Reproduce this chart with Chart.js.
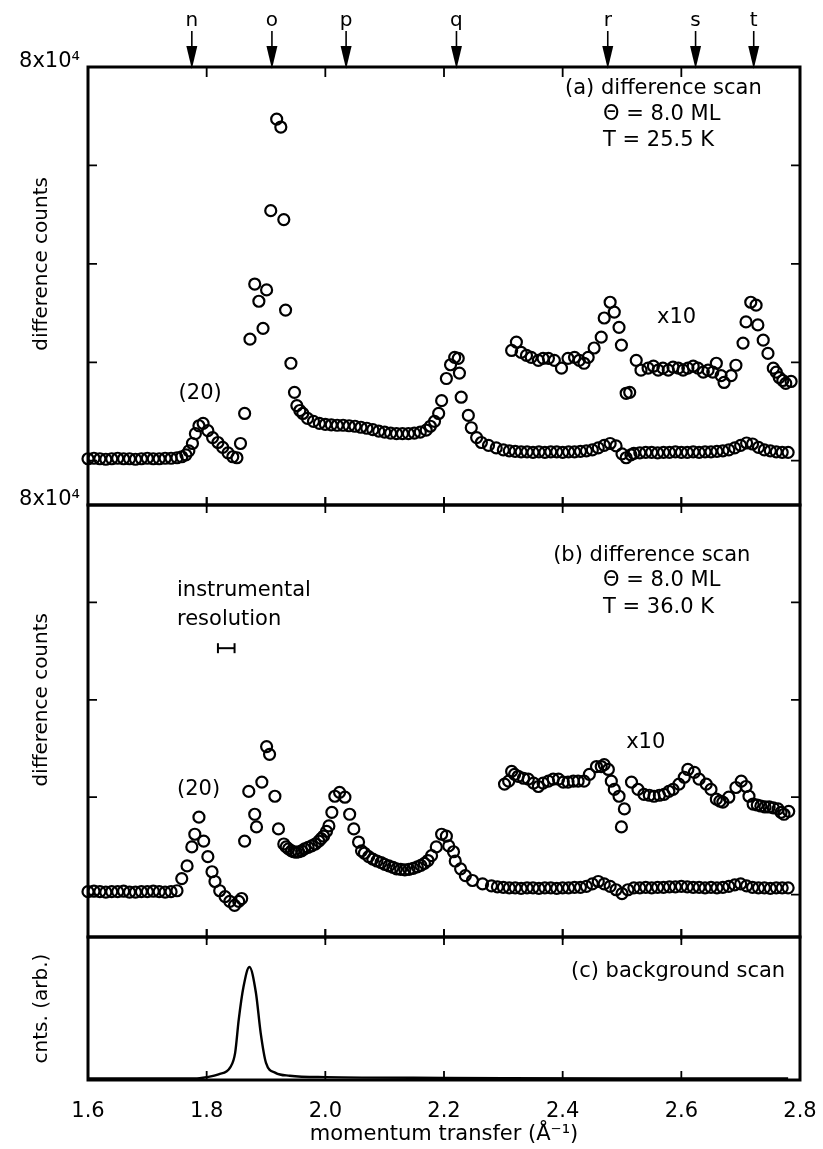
<!DOCTYPE html>
<html>
<head>
<meta charset="utf-8">
<script src="https://cdn.jsdelivr.net/npm/chart.js@4/dist/chart.umd.min.js"></script>
<style>
  html, body { margin: 0; padding: 0; background: #fff; }
  #figure { position: relative; width: 823px; height: 1149px; overflow: hidden; }
  #figure canvas { position: absolute; left: 0; }
</style>
</head>
<body>
<div id="figure">
  <canvas id="panelA" width="823" height="507" style="top:0px"></canvas>
  <canvas id="panelB" width="823" height="460" style="top:480px"></canvas>
  <canvas id="panelC" width="823" height="249" style="top:900px"></canvas>
</div>
<script>
// ---- data (momentum transfer in 1/A, counts in units of 10^4) ----
var markerLabels = ['n', 'o', 'p', 'q', 'r', 's', 't'];
var markerQ = [1.775, 1.910, 2.035, 2.221, 2.476, 2.624, 2.722];

var xTicks = [1.8, 2.0, 2.2, 2.4, 2.6];
var countTicks = [0, 2, 4, 6];
var countTopLabel = '8x10\u2074';

// (a) difference scan, T = 25.5 K
var scanA = [
  [1.600,0.04],[1.610,0.05],[1.620,0.04],[1.630,0.03],[1.640,0.04],[1.650,0.05],[1.660,0.04],[1.670,0.04],
  [1.680,0.03],[1.690,0.04],[1.700,0.05],[1.710,0.04],[1.720,0.04],[1.730,0.05],[1.740,0.05],[1.750,0.06],
  [1.758,0.08],[1.765,0.12],[1.770,0.20],[1.776,0.35],[1.781,0.55],[1.787,0.71],[1.794,0.76],[1.802,0.61],
  [1.810,0.47],[1.819,0.37],[1.827,0.27],[1.836,0.16],[1.844,0.08],[1.851,0.06],[1.857,0.35],[1.864,0.96],
  [1.873,2.47],[1.881,3.59],[1.888,3.24],[1.895,2.69],[1.901,3.47],[1.908,5.08],[1.918,6.94],[1.925,6.78],
  [1.930,4.90],[1.933,3.06],[1.942,1.98],[1.948,1.39],[1.952,1.12],[1.957,1.02],[1.962,0.96],[1.970,0.86],
  [1.980,0.80],[1.990,0.76],[2.000,0.74],[2.010,0.73],[2.020,0.72],[2.030,0.72],[2.040,0.71],[2.050,0.70],
  [2.060,0.68],[2.070,0.66],[2.080,0.63],[2.090,0.60],[2.100,0.58],[2.110,0.56],[2.120,0.55],[2.130,0.55],
  [2.140,0.55],[2.150,0.56],[2.160,0.58],[2.170,0.62],[2.177,0.70],[2.184,0.80],[2.191,0.96],[2.196,1.22],
  [2.204,1.67],[2.211,1.95],[2.218,2.10],[2.224,2.08],[2.226,1.78],[2.229,1.29],[2.241,0.92],[2.246,0.67],
  [2.255,0.47],[2.263,0.37],[2.275,0.31],[2.288,0.26],[2.300,0.22],[2.310,0.20],[2.320,0.19],[2.330,0.18],
  [2.340,0.18],[2.350,0.17],[2.360,0.18],[2.370,0.17],[2.380,0.18],[2.390,0.18],[2.400,0.17],[2.410,0.18],
  [2.420,0.18],[2.430,0.19],[2.440,0.20],[2.450,0.22],[2.460,0.26],[2.470,0.31],[2.480,0.35],[2.490,0.30],
  [2.500,0.14],[2.507,0.06],[2.515,0.12],[2.520,0.15],[2.530,0.16],[2.540,0.17],[2.550,0.17],[2.560,0.16],
  [2.570,0.17],[2.580,0.17],[2.590,0.18],[2.600,0.17],[2.610,0.17],[2.620,0.18],[2.630,0.17],[2.640,0.18],
  [2.650,0.18],[2.660,0.19],[2.670,0.20],[2.680,0.22],[2.690,0.26],[2.700,0.31],[2.710,0.36],[2.720,0.34],
  [2.730,0.27],[2.740,0.22],[2.750,0.20],[2.760,0.18],[2.770,0.17],[2.780,0.17]
];

var scanAx10 = [
  [2.314,2.24],[2.322,2.41],[2.330,2.20],[2.339,2.14],[2.347,2.10],[2.359,2.04],[2.367,2.08],[2.376,2.08],
  [2.386,2.04],[2.398,1.88],[2.409,2.08],[2.420,2.10],[2.428,2.04],[2.436,1.98],[2.443,2.10],[2.453,2.29],
  [2.465,2.51],[2.470,2.90],[2.480,3.22],[2.487,3.02],[2.495,2.71],[2.499,2.35],[2.507,1.37],[2.513,1.39],
  [2.524,2.04],[2.532,1.84],[2.544,1.88],[2.553,1.92],[2.561,1.84],[2.569,1.88],[2.578,1.84],[2.586,1.90],
  [2.595,1.88],[2.603,1.84],[2.611,1.88],[2.620,1.92],[2.628,1.88],[2.637,1.80],[2.645,1.84],[2.653,1.80],
  [2.659,1.98],[2.667,1.73],[2.672,1.59],[2.684,1.73],[2.692,1.94],[2.704,2.39],[2.709,2.82],[2.717,3.22],
  [2.726,3.16],[2.729,2.76],[2.738,2.45],[2.746,2.18],[2.755,1.88],[2.760,1.80],[2.765,1.69],[2.771,1.63],
  [2.776,1.57],[2.785,1.61]
];

// (b) difference scan, T = 36.0 K
var scanB = [
  [1.600,0.06],[1.610,0.07],[1.620,0.06],[1.630,0.05],[1.640,0.06],[1.650,0.06],[1.660,0.07],[1.670,0.05],
  [1.680,0.05],[1.690,0.06],[1.700,0.06],[1.710,0.07],[1.720,0.06],[1.730,0.05],[1.740,0.06],[1.750,0.08],
  [1.758,0.33],[1.767,0.59],[1.775,0.98],[1.780,1.24],[1.787,1.59],[1.795,1.10],[1.802,0.78],[1.809,0.47],
  [1.814,0.27],[1.822,0.08],[1.831,-0.04],[1.839,-0.14],[1.847,-0.22],[1.854,-0.14],[1.859,-0.08],[1.864,1.10],
  [1.871,2.12],[1.881,1.65],[1.884,1.39],[1.893,2.31],[1.901,3.04],[1.906,2.88],[1.915,2.02],[1.921,1.35],
  [1.930,1.04],[1.934,0.98],[1.938,0.94],[1.943,0.90],[1.947,0.88],[1.951,0.87],[1.955,0.88],[1.960,0.90],
  [1.965,0.94],[1.971,0.97],[1.977,1.00],[1.983,1.04],[1.989,1.10],[1.993,1.15],[1.997,1.20],[2.002,1.30],
  [2.006,1.41],[2.011,1.69],[2.016,2.02],[2.024,2.10],[2.033,2.00],[2.041,1.65],[2.048,1.35],[2.056,1.08],
  [2.061,0.90],[2.066,0.85],[2.073,0.78],[2.080,0.73],[2.087,0.69],[2.094,0.66],[2.100,0.62],[2.107,0.59],
  [2.114,0.56],[2.120,0.53],[2.127,0.52],[2.134,0.51],[2.141,0.52],[2.148,0.54],[2.155,0.57],[2.161,0.60],
  [2.167,0.64],[2.173,0.70],[2.179,0.80],[2.187,0.98],[2.196,1.24],[2.204,1.20],[2.208,1.00],[2.216,0.88],
  [2.219,0.69],[2.228,0.53],[2.236,0.39],[2.248,0.29],[2.265,0.22],[2.280,0.18],[2.290,0.16],[2.300,0.15],
  [2.310,0.14],[2.320,0.14],[2.330,0.13],[2.340,0.14],[2.350,0.14],[2.360,0.13],[2.370,0.14],[2.380,0.14],
  [2.390,0.13],[2.400,0.14],[2.410,0.14],[2.420,0.15],[2.430,0.15],[2.440,0.17],[2.450,0.22],[2.460,0.27],
  [2.470,0.22],[2.480,0.17],[2.490,0.10],[2.500,0.02],[2.510,0.10],[2.520,0.14],[2.530,0.14],[2.540,0.15],
  [2.550,0.14],[2.560,0.15],[2.570,0.15],[2.580,0.16],[2.590,0.16],[2.600,0.17],[2.610,0.16],[2.620,0.15],
  [2.630,0.15],[2.640,0.14],[2.650,0.15],[2.660,0.14],[2.670,0.15],[2.680,0.17],[2.690,0.20],[2.700,0.22],
  [2.710,0.18],[2.720,0.15],[2.730,0.14],[2.740,0.14],[2.750,0.13],[2.760,0.14],[2.770,0.14],[2.780,0.14]
];

var scanBx10 = [
  [2.302,2.27],[2.309,2.33],[2.314,2.53],[2.319,2.47],[2.325,2.43],[2.334,2.39],[2.342,2.37],[2.351,2.29],
  [2.359,2.22],[2.367,2.29],[2.376,2.33],[2.384,2.37],[2.393,2.37],[2.401,2.31],[2.409,2.31],[2.418,2.33],
  [2.426,2.33],[2.436,2.33],[2.445,2.47],[2.457,2.63],[2.465,2.63],[2.470,2.67],[2.477,2.57],[2.482,2.33],
  [2.487,2.16],[2.495,2.02],[2.499,1.39],[2.504,1.76],[2.516,2.31],[2.527,2.16],[2.537,2.06],[2.546,2.04],
  [2.554,2.02],[2.563,2.04],[2.571,2.06],[2.579,2.12],[2.586,2.16],[2.596,2.27],[2.605,2.41],[2.611,2.57],
  [2.622,2.51],[2.630,2.37],[2.642,2.27],[2.650,2.16],[2.659,1.96],[2.665,1.92],[2.670,1.90],[2.680,2.00],
  [2.692,2.20],[2.701,2.33],[2.709,2.22],[2.714,2.02],[2.721,1.86],[2.728,1.84],[2.734,1.82],[2.741,1.80],
  [2.748,1.80],[2.755,1.78],[2.763,1.76],[2.768,1.69],[2.773,1.65],[2.781,1.71]
];

// instrumental resolution bar (panel b)
var resolutionQ = [1.819, 1.847];
var resolutionLevel = 5.06;

// (c) background scan, arbitrary units
var backgroundC = [
  [1.600,0.01],[1.700,0.01],[1.780,0.01],[1.800,0.02],[1.820,0.04],[1.840,0.09],[1.848,0.19],[1.854,0.42],
  [1.862,0.65],[1.872,0.79],[1.883,0.61],[1.891,0.33],[1.900,0.12],[1.916,0.05],[1.940,0.03],[2.000,0.02],
  [2.200,0.015],[2.500,0.01],[2.780,0.01]
];

// ---- drawing ----
Chart.defaults.font.family = "'DejaVu Sans', sans-serif";
Chart.defaults.color = '#000';

var FONT = "'DejaVu Sans', sans-serif";

function toPoints(rows) {
  return rows.map(function (r) { return { x: r[0], y: r[1] }; });
}

function circles(rows) {
  return {
    data: toPoints(rows),
    showLine: false,
    pointRadius: 5.5,
    pointHoverRadius: 5.5,
    pointBorderWidth: 2.2,
    pointBorderColor: '#000',
    pointBackgroundColor: 'rgba(0,0,0,0)',
    clip: false
  };
}

// frame, inward ticks, texts, arrows
var panelDecor = {
    id: 'panelDecor',
    afterDraw: function (chart, args, opts) {
        var ctx = chart.ctx;
        var a = chart.chartArea;
        var x = chart.scales.x;
        var y = chart.scales.y;
        var i;
        ctx.save();
        ctx.strokeStyle = '#000';
        ctx.fillStyle = '#000';

        // ticks
        ctx.lineWidth = 1.8;
        ctx.beginPath();
        xTicks.forEach(function (q) {
            var px = x.getPixelForValue(q);
            if (opts.topTicks) {
                ctx.moveTo(px, a.top - opts.topTicks[0]);
                ctx.lineTo(px, a.top + opts.topTicks[1]);
            }
            if (opts.bottomTicks) {
                ctx.moveTo(px, a.bottom - opts.bottomTicks[0]);
                ctx.lineTo(px, a.bottom + opts.bottomTicks[1]);
            }
        });
        (opts.yTicks || []).forEach(function (v) {
            var py = y.getPixelForValue(v);
            ctx.moveTo(a.left, py);
            ctx.lineTo(a.left + 9, py);
            ctx.moveTo(a.right, py);
            ctx.lineTo(a.right - 9, py);
        });
        ctx.stroke();

        // frame
        ctx.lineWidth = 3;
        ctx.strokeRect(a.left, a.top, a.right - a.left, a.bottom - a.top);

        // top count label (8x10^4)
        if (opts.topLabel) {
            ctx.font = '21px ' + FONT;
            ctx.textAlign = 'right';
            ctx.textBaseline = 'bottom';
            ctx.fillText(countTopLabel, a.left - 8, y.getPixelForValue(8) + 5);
        }

        // peak markers
        if (opts.arrows) {
            ctx.font = '20px ' + FONT;
            ctx.textAlign = 'center';
            ctx.textBaseline = 'alphabetic';
            ctx.lineWidth = 1.6;
            for (i = 0; i < markerQ.length; i++) {
                var mx = x.getPixelForValue(markerQ[i]);
                ctx.fillText(markerLabels[i], mx, a.top - 41);
                ctx.beginPath();
                ctx.moveTo(mx, a.top - 36);
                ctx.lineTo(mx, a.top - 18);
                ctx.stroke();
                ctx.beginPath();
                ctx.moveTo(mx - 5.5, a.top - 21);
                ctx.lineTo(mx + 5.5, a.top - 21);
                ctx.lineTo(mx, a.top + 2);
                ctx.closePath();
                ctx.fill();
            }
        }

        // texts
        ctx.textBaseline = 'middle';
        (opts.texts || []).forEach(function (t) {
            var px = t.px !== undefined ? t.px : x.getPixelForValue(t.q);
            var py = y.getPixelForValue(t.v);
            ctx.font = (t.size || 21) + 'px ' + FONT;
            ctx.textAlign = t.align || 'left';
            ctx.save();
            ctx.translate(px, py);
            if (t.rotate) {
                ctx.rotate(t.rotate * Math.PI / 180);
            }
            ctx.fillText(t.text, 0, 0);
            ctx.restore();
        });
        ctx.restore();
    }
};

function hiddenX() {
    return { type: 'linear', min: 1.6, max: 2.8, display: false };
}

function countAxis(min) {
    return { type: 'linear', min: min, max: 8, display: false };
}

function opts(layoutPadding, scales, decor) {
    return {
        responsive: false,
        animation: false,
        events: [],
        layout: { padding: layoutPadding, autoPadding: false },
        scales: scales,
        plugins: {
            legend: { display: false },
            tooltip: { enabled: false },
            panelDecor: decor
        }
    };
}

// panel (a)
new Chart(document.getElementById('panelA'), {
    type: 'scatter',
    data: { datasets: [circles(scanA), circles(scanAx10)] },
    options: opts(
        { top: 67, bottom: 2, left: 88, right: 23 },
        { x: hiddenX(), y: countAxis(-0.9) },
        {
            arrows: true,
            topLabel: true,
            topTicks: [0, 10],
            bottomTicks: [8, 8],
            yTicks: countTicks,
            texts: [
                { text: '(a) difference scan', q: 2.404, v: 7.57 },
                { text: '\u0398 = 8.0 ML', q: 2.468, v: 7.04 },
                { text: 'T = 25.5 K', q: 2.468, v: 6.51 },
                { text: '(20)', q: 1.789, v: 1.36, align: 'center' },
                { text: 'x10', q: 2.592, v: 2.90, align: 'center' },
                { text: 'difference counts', px: 42, v: 4, align: 'center', rotate: -90, size: 20 }
            ]
        }
    ),
    plugins: [panelDecor]
});

// panel (b)
var resolutionBar = {
    data: toPoints([[resolutionQ[0], resolutionLevel], [resolutionQ[1], resolutionLevel]]),
    showLine: true,
    borderColor: '#000',
    borderWidth: 2,
    pointStyle: 'line',
    rotation: 90,
    pointRadius: 5,
    pointHoverRadius: 5,
    pointBorderWidth: 2,
    pointBorderColor: '#000'
};

new Chart(document.getElementById('panelB'), {
    type: 'scatter',
    data: { datasets: [circles(scanB), circles(scanBx10), resolutionBar] },
    options: opts(
        { top: 25, bottom: 3, left: 88, right: 23 },
        { x: hiddenX(), y: countAxis(-0.87) },
        {
            topLabel: true,
            topTicks: [8, 8],
            bottomTicks: [8, 8],
            yTicks: countTicks,
            texts: [
                { text: '(b) difference scan', q: 2.384, v: 6.97 },
                { text: '\u0398 = 8.0 ML', q: 2.468, v: 6.44 },
                { text: 'T = 36.0 K', q: 2.468, v: 5.90 },
                { text: 'instrumental', q: 1.750, v: 6.25 },
                { text: 'resolution', q: 1.750, v: 5.64 },
                { text: '(20)', q: 1.750, v: 2.15 },
                { text: 'x10', q: 2.540, v: 3.13, align: 'center' },
                { text: 'difference counts', px: 42, v: 4, align: 'center', rotate: -90, size: 20 }
            ]
        }
    ),
    plugins: [panelDecor]
});

// panel (c)
new Chart(document.getElementById('panelC'), {
    type: 'scatter',
    data: {
        datasets: [{
            data: toPoints(backgroundC),
            showLine: true,
            cubicInterpolationMode: 'monotone',
            borderColor: '#000',
            borderWidth: 2.4,
            pointRadius: 0,
            pointHoverRadius: 0,
            clip: false
        }]
    },
    options: opts(
        { top: 37, bottom: 0, left: 88, right: 23 },
        {
            x: {
                type: 'linear',
                min: 1.6,
                max: 2.8,
                grid: { display: false },
                border: { display: false },
                ticks: {
                    stepSize: 0.2,
                    padding: 11,
                    maxRotation: 0,
                    font: { size: 21 },
                    callback: function (v) { return v.toFixed(1); }
                },
                title: {
                    display: true,
                    text: 'momentum transfer (\u00c5\u207b\u00b9)',
                    font: { size: 21 },
                    padding: { top: 2, bottom: 2 }
                },
                afterFit: function (s) {
                    s.height = 69;
                    s.paddingLeft = 0;
                    s.paddingRight = 0;
                }
            },
            y: { type: 'linear', min: 0, max: 1, display: false }
        },
        {
            topTicks: [8, 8],
            bottomTicks: [9, 0],
            texts: [
                { text: '(c) background scan', q: 2.775, v: 0.76, align: 'right' },
                { text: 'cnts. (arb.)', px: 42, v: 0.5, align: 'center', rotate: -90, size: 20 }
            ]
        }
    ),
    plugins: [panelDecor]
});
</script>
</body>
</html>
